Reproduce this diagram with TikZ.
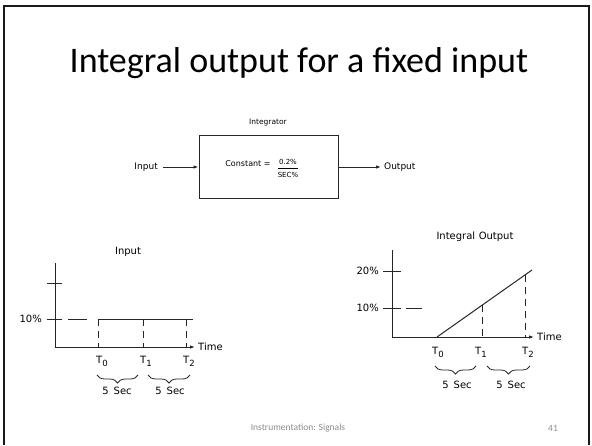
\documentclass[tikz,border=0pt]{standalone}
\usepackage{fontspec}
\setmainfont{Carlito}
\newfontfamily\plotfont{DejaVu Sans}
\usetikzlibrary{arrows.meta,decorations.pathreplacing}
\newcommand{\Tsub}[1]{T\raisebox{-0.55ex}{\fontsize{8.5}{8.5}\selectfont #1}}
\begin{document}
\begin{tikzpicture}[x=1pt,y=-1pt,
  lbl/.style={font=\plotfont\fontsize{9}{10}\selectfont, inner sep=0pt},
  small/.style={font=\plotfont\fontsize{7.5}{8}\selectfont, inner sep=0pt},
  big/.style={font=\plotfont\fontsize{10}{11}\selectfont, inner sep=0pt},
  axis/.style={line width=1pt, black!85},
  arr/.style={-{Latex[length=5pt,width=3.5pt]}},
  guide/.style={line width=1pt, black!85, dash pattern=on 7pt off 5pt},
  brc/.style={line width=0.8pt, black!85, decorate,
              decoration={brace,mirror,amplitude=8pt}},
  footer/.style={font=\fontsize{9.5}{10}\selectfont, text=black!45, inner sep=0pt}]
\useasboundingbox (0,0) rectangle (592,445);

% slide frame
\draw[line width=1.6pt, black!90] (4,445) -- (4,6) -- (589,6) -- (589,445);

% title
\node[font=\fontsize{36}{40}\selectfont, anchor=base, inner sep=0pt] (title) at (299,72)
  {Integral output for a fixed input};

% ---- integrator block ----
\node[draw, line width=1pt, black!85, minimum width=139pt, minimum height=63pt,
      inner sep=0pt] (blk) at (268.5,166.5) {};
\node[small] (blkname) at (268,123) {Integrator};
\node[lbl, anchor=east] (inlbl) at (158,167) {Input};
\node[lbl, anchor=west] (outlbl) at (384,167) {Output};
\draw[axis, arr] (inlbl.east) ++(5,0) coordinate (inA) (inA) -- (blk.west |- inA);
\coordinate (outB) at (381,167);
\draw[axis, arr] (blk.east |- outB) -- (outB);
\node[small, font=\plotfont\fontsize{8}{9}\selectfont] (cst) at (248,164) {Constant =};
\node[small, font=\plotfont\fontsize{7}{8}\selectfont] (num) at (288,162) {0.2\%};
\node[small, font=\plotfont\fontsize{7}{8}\selectfont] (den) at (288,174.5) {SEC\%};
\draw[line width=0.7pt] (278,168) -- (298,168);

% ---- left plot: input ----
\node[big] (inttl) at (128,252) {Input};
\coordinate (yA) at (55,263);
\coordinate (oA) at (55,347);
\coordinate (xA) at (195,347);
\draw[axis, arr] (yA) -- (oA) -- (xA);
\node[big, anchor=west] (timeA) at (198,347) {Time};
\draw[axis] (47,283) -- (62,283);
\draw[axis] (47,319) -- (62,319);
\draw[axis] (68,319) -- (87,319);
\node[big, anchor=east] (pA) at (42,319) {10\%};
\coordinate (s0) at (98,319);
\coordinate (s1) at (143,319);
\coordinate (s2) at (186,319);
\coordinate (sE) at (193,319);
\draw[axis] (s0) -- (sE);
\draw[guide] (s0) -- (s0 |- oA);
\draw[guide] (s1) -- (s1 |- oA);
\draw[guide] (s2) -- (s2 |- oA);
\node[big] (tA0) at (102,361) {\Tsub{0}};
\node[big] (tA1) at (146,361) {\Tsub{1}};
\node[big] (tA2) at (189,361) {\Tsub{2}};
\draw[brc] (97,375) -- (138,375);
\draw[brc] (148,375) -- (190,375);
\node[big] (dA1) at (117,391) {5\hspace{0.5em}Sec};
\node[big] (dA2) at (170,391) {5\hspace{0.5em}Sec};

% ---- right plot: integral output ----
\node[big] (outttl) at (475,237) {Integral\hspace{0.35em}Output};
\coordinate (yB) at (392,250);
\coordinate (oB) at (392,337);
\coordinate (xB) at (534,337);
\draw[axis, arr] (yB) -- (oB) -- (xB);
\node[big, anchor=west] (timeB) at (537,337) {Time};
\draw[axis] (383,271) -- (401,271);
\draw[axis] (383,308) -- (401,308);
\draw[axis] (406,308) -- (422,308);
\node[big, anchor=east] (pB20) at (379,271) {20\%};
\node[big, anchor=east] (pB10) at (379,308) {10\%};
\coordinate (r0) at (437,337);
\coordinate (rE) at (532,270);
\draw[axis] (r0) -- (rE);
\coordinate (r1) at (482,305.3);
\coordinate (r2) at (525,274.9);
\draw[guide] (r1) -- (r1 |- oB);
\draw[guide] (r2) -- (r2 |- oB);
\node[big] (tB0) at (438,352) {\Tsub{0}};
\node[big] (tB1) at (481,352) {\Tsub{1}};
\node[big] (tB2) at (528,352) {\Tsub{2}};
\draw[brc] (435,366) -- (476,366);
\draw[brc] (487,366) -- (530,366);
\node[big] (dB1) at (457,385) {5\hspace{0.5em}Sec};
\node[big] (dB2) at (511,385) {5\hspace{0.5em}Sec};

% footer
\node[footer] (ftxt) at (298,428) {Instrumentation: Signals};
\node[footer] (fnum) at (553,428) {41};
\end{tikzpicture}
\end{document}
